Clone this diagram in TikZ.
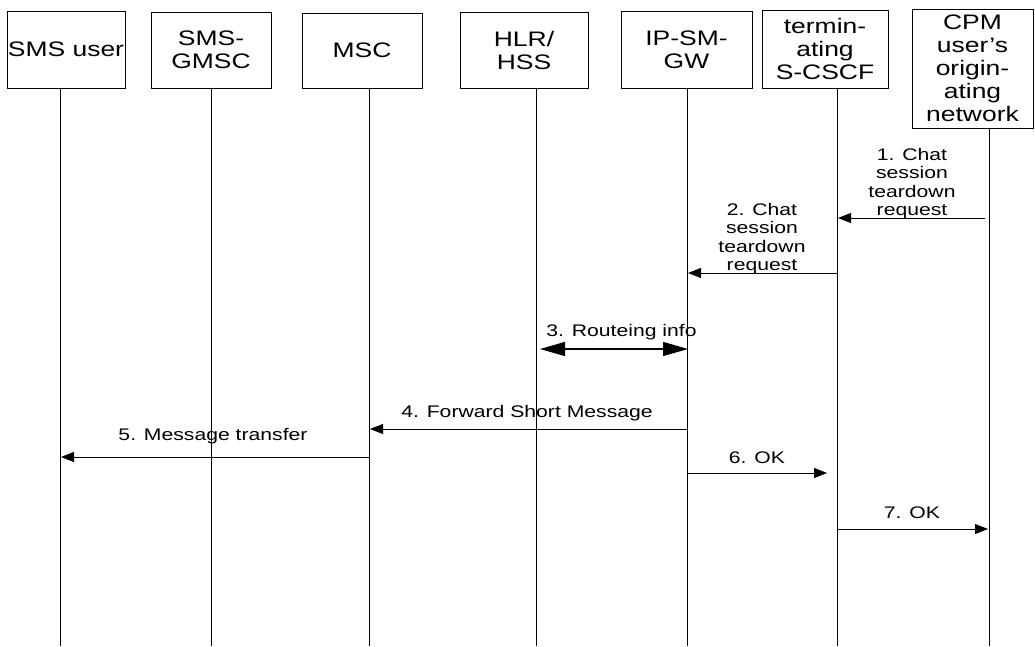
\documentclass[tikz,border=0pt]{standalone}
\usepackage{fontspec}
\setmainfont{Liberation Sans}[FakeStretch=1.26]
\usetikzlibrary{arrows.meta}
\begin{document}
\begin{tikzpicture}[x=1pt,y=-1pt,
  ent/.style={draw, line width=1pt, inner sep=0pt, align=center, font=\fontsize{21}{23}\selectfont},
  lbl/.style={inner sep=0pt, align=center, font=\fontsize{16.8}{18.6}\selectfont},
  life/.style={line width=1pt},
  msg/.style={line width=0.9pt, -{Triangle[length=13pt,width=10pt]}},
  bmsg/.style={line width=1.2pt, {Triangle[length=25pt,width=14pt]}-{Triangle[length=25pt,width=14pt]}}]
\useasboundingbox (0,0) rectangle (1035,646);
% entities
\node[ent, minimum width=118pt, minimum height=77pt] (sms) at (66,49.5) {SMS user};
\node[ent, minimum width=120pt, minimum height=76pt] (gmsc) at (211,50) {SMS-\\GMSC};
\node[ent, minimum width=120pt, minimum height=75pt] (msc) at (362,50.5) {MSC};
\node[ent, minimum width=128pt, minimum height=76pt] (hlr) at (524,50) {HLR/\\HSS};
\node[ent, minimum width=131pt, minimum height=77pt] (ipsm) at (686.5,49.5) {IP-SM-\\GW};
\node[ent, minimum width=126pt, minimum height=78pt] (scscf) at (825,49) {termin-\\ating\\S-CSCF};
\node[ent, minimum width=121pt, minimum height=119pt] (cpm) at (972.5,68.5) {CPM\\user's\\origin-\\ating\\network};
% lifelines
\coordinate (l1) at (60,88);   \coordinate (l1b) at (60,646);
\coordinate (l2) at (211,88);  \coordinate (l2b) at (211,646);
\coordinate (l3) at (369,88);  \coordinate (l3b) at (369,646);
\coordinate (l4) at (536,88);  \coordinate (l4b) at (536,646);
\coordinate (l5) at (687,88);  \coordinate (l5b) at (687,646);
\coordinate (l6) at (837,88);  \coordinate (l6b) at (837,646);
\coordinate (l7) at (989,128); \coordinate (l7b) at (989,646);
\foreach \i in {1,...,7} {\draw[life] (l\i) -- (l\i b);}
% messages
\coordinate (m1s) at (985,218); \coordinate (m1e) at (838,218);
\draw[msg] (m1s) -- (m1e);
\node[lbl, anchor=north] (t1) at (912,147.7) {1. Chat\\session\\teardown\\request};
\coordinate (m2s) at (837,273); \coordinate (m2e) at (688,273);
\draw[msg] (m2s) -- (m2e);
\node[lbl, anchor=north] (t2) at (762,202.7) {2. Chat\\session\\teardown\\request};
\coordinate (m3s) at (540,349); \coordinate (m3e) at (688,349);
\draw[bmsg] (m3s) -- (m3e);
\node[lbl, anchor=base] (t3) at (621.5,336) {3. Routeing info};
\coordinate (m4s) at (687,429); \coordinate (m4e) at (370,429);
\draw[msg] (m4s) -- (m4e);
\node[lbl, anchor=base] (t4) at (527,417) {4. Forward Short Message};
\coordinate (m5s) at (369,457); \coordinate (m5e) at (61,457);
\draw[msg] (m5s) -- (m5e);
\node[lbl, anchor=base] (t5) at (213,440) {5. Message transfer};
\coordinate (m6s) at (687,473); \coordinate (m6e) at (827,473);
\draw[msg] (m6s) -- (m6e);
\node[lbl, anchor=base] (t6) at (757,463) {6. OK};
\coordinate (m7s) at (837,529); \coordinate (m7e) at (988,529);
\draw[msg] (m7s) -- (m7e);
\node[lbl, anchor=base] (t7) at (912,518) {7. OK};
\end{tikzpicture}
\end{document}
